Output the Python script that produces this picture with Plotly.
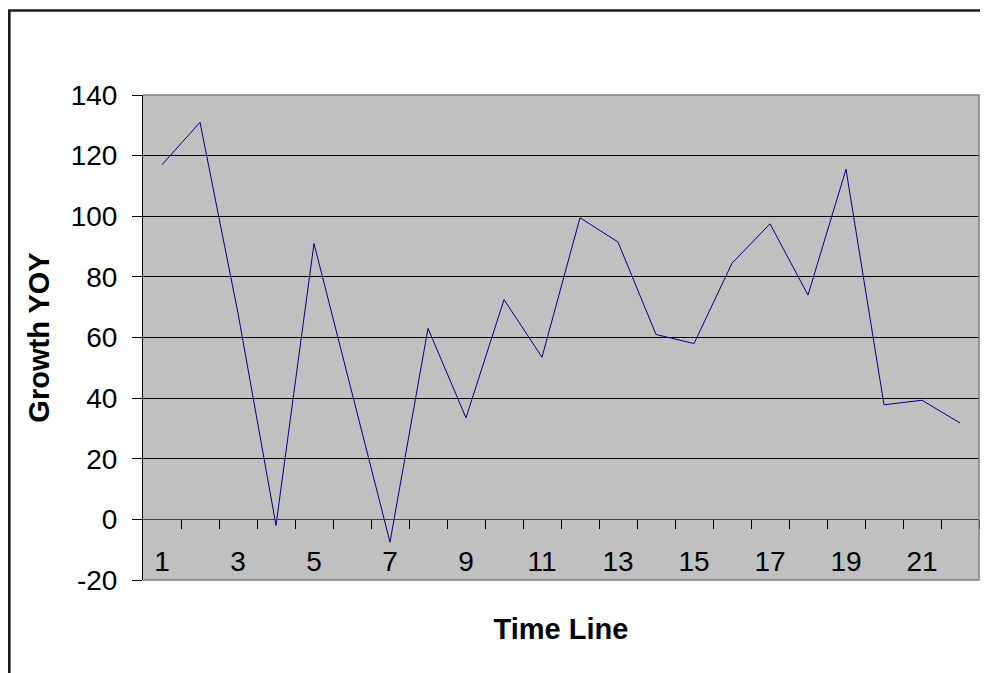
import plotly.graph_objects as go

# Data
time_line = list(range(1, 23))
growth_yoy = [117, 131, 68, -2, 91, 42, -7.5, 63, 33.5, 72.5, 53.5, 99.5,
              91.5, 61, 58, 84.5, 97.5, 74, 115.5, 37.8, 39.3, 31.8]
x_tick_vals = [1, 3, 5, 7, 9, 11, 13, 15, 17, 19, 21]
x_tick_text = [str(v) for v in x_tick_vals]
y_tick_vals = [-20, 0, 20, 40, 60, 80, 100, 120, 140]
y_tick_text = [str(v) for v in y_tick_vals]

# the page adds an 8px body margin, so the figure is 8px smaller
W, H = 980, 665
ML, MR, MT, MB = 135, 9, 87, 93
PW, PH = W - ML - MR, H - MT - MB

def px_x(px):
    return (px - ML) / PW

def px_y(py):
    return (H - MB - py) / PH

fig = go.Figure()
fig.add_trace(go.Scatter(
    x=time_line, y=growth_yoy, mode="lines",
    line=dict(color="#000080", width=1),
    showlegend=False, hoverinfo="x+y",
))

ymin, ymax = -20, 140
font_main = "Liberation Sans, Arial, sans-serif"

fig.update_layout(
    width=W, height=H,
    margin=dict(l=ML, r=MR, t=MT, b=MB, autoexpand=False),
    paper_bgcolor="white",
    plot_bgcolor="#C0C0C0",
    font=dict(family=font_main, color="black", size=28),
    xaxis=dict(
        range=[0.5, 22.5],
        anchor="free",
        position=(0 - ymin) / (ymax - ymin),
        tickmode="array",
        tickvals=x_tick_vals,
        ticktext=x_tick_text,
        ticks="",
        ticklen=0,
        ticklabelstandoff=17,
        tickfont=dict(size=28, family=font_main, color="black"),
        showgrid=False,
        zeroline=False,
        showline=True,
        linecolor="#404040",
        linewidth=1,
        minor=dict(
            tickmode="array",
            tickvals=[v + 0.5 for v in time_line],
            ticks="outside",
            ticklen=9,
            tickcolor="#000000",
            tickwidth=1,
            showgrid=False,
        ),
        title=dict(text="<b>Time Line</b>", font=dict(size=29, family=font_main, color="black"),
                   standoff=42),
        automargin=False,
        fixedrange=True,
    ),
    yaxis=dict(
        range=[ymin, ymax],
        tickmode="array",
        tickvals=y_tick_vals,
        ticktext=y_tick_text,
        ticks="outside",
        ticklen=10,
        tickcolor="#000000",
        tickwidth=1,
        ticklabelstandoff=9,
        tickfont=dict(size=28, family=font_main, color="black"),
        showgrid=True,
        gridcolor="#000000",
        gridwidth=1,
        zeroline=False,
        showline=True,
        linecolor="#000000",
        linewidth=1,
        title=dict(text="<b>Growth YOY</b>", font=dict(size=29, family=font_main, color="black"),
                   standoff=12),
        automargin=False,
        fixedrange=True,
    ),
    shapes=[
        # plot-area border (top, right, bottom) in grey
        dict(type="path", xref="paper", yref="paper",
             path="M 0,1 L 1,1 L 1,0 L 0,0",
             line=dict(color="#808080", width=1.5), layer="above"),
        # outer chart border
        dict(type="rect", xref="paper", yref="paper",
             x0=px_x(1.3), x1=px_x(1000), y0=px_y(700), y1=px_y(2.5),
             line=dict(color="#1a1a1a", width=2.6), fillcolor="rgba(0,0,0,0)",
             layer="above"),
    ],
)

fig.write_html("out.html")
